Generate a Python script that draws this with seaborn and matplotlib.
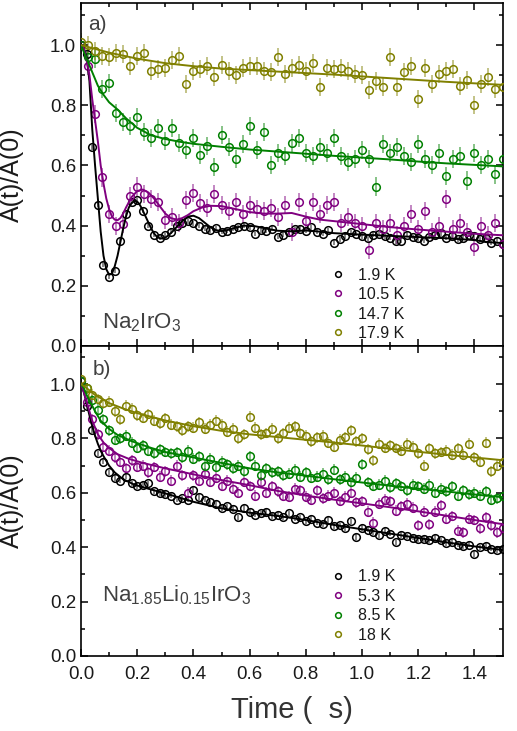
import numpy as np
import pandas as pd
import matplotlib
matplotlib.use("Agg")
import matplotlib.pyplot as plt
import seaborn as sns

# ---------------- data ----------------
# Panel a) Na2IrO3  (time in microseconds)
a_black_dt = 0.02
a_black = [1.00, 0.97, 0.66, 0.47, 0.27, 0.23, 0.25, 0.35, 0.44, 0.48,
           0.485, 0.45, 0.40, 0.37, 0.36, 0.368, 0.38, 0.40, 0.41, 0.415,
           0.408, 0.40, 0.39, 0.385, 0.392, 0.38, 0.383, 0.39, 0.395, 0.40,
           0.395, 0.372, 0.385, 0.382, 0.39, 0.362, 0.37, 0.378, 0.388, 0.39,
           0.383, 0.395, 0.38, 0.372, 0.385, 0.343, 0.355, 0.365, 0.378, 0.372,
           0.365, 0.358, 0.37, 0.372, 0.365, 0.36, 0.348, 0.35, 0.37, 0.362,
           0.358, 0.35, 0.362, 0.37, 0.375, 0.36, 0.365, 0.355, 0.36, 0.37,
           0.365, 0.355, 0.36, 0.342, 0.35, 0.34]
a_other_dt = 0.025
a_purple = [1.00, 0.93, 0.77, 0.56, 0.44, 0.40, 0.405, 0.50, 0.53, 0.505,
            0.49, 0.48, 0.42, 0.43, 0.41, 0.485, 0.51, 0.475, 0.46, 0.505,
            0.47, 0.45, 0.48, 0.44, 0.47, 0.455, 0.45, 0.46, 0.43, 0.47,
            0.38, 0.48, 0.415, 0.48, 0.44, 0.47, 0.48, 0.41, 0.43, 0.41,
            0.40, 0.32, 0.41, 0.39, 0.41, 0.37, 0.40, 0.44, 0.39, 0.45,
            0.38, 0.40, 0.49, 0.39, 0.41, 0.38, 0.33, 0.40, 0.37, 0.41, 0.34]
a_green = [1.00, 0.96, 0.955, 0.855, 0.875, 0.775, 0.745, 0.73, 0.76, 0.71,
           0.69, 0.725, 0.68, 0.725, 0.675, 0.65, 0.69, 0.635, 0.665, 0.595,
           0.70, 0.66, 0.62, 0.67, 0.73, 0.65, 0.71, 0.60, 0.64, 0.63,
           0.675, 0.69, 0.64, 0.63, 0.66, 0.64, 0.69, 0.63, 0.61, 0.62,
           0.65, 0.62, 0.53, 0.67, 0.64, 0.66, 0.63, 0.61, 0.67, 0.62,
           0.60, 0.64, 0.565, 0.62, 0.63, 0.55, 0.64, 0.60, 0.62, 0.57, 0.62]
a_olive = [1.01, 1.00, 0.98, 0.965, 0.96, 0.975, 0.97, 0.93, 0.965, 0.975,
           0.915, 0.92, 0.925, 0.95, 0.965, 0.87, 0.915, 0.92, 0.93, 0.895,
           0.935, 0.915, 0.90, 0.925, 0.93, 0.93, 0.915, 0.91, 0.96, 0.905,
           0.925, 0.935, 0.915, 0.94, 0.86, 0.925, 0.92, 0.925, 0.915, 0.905,
           0.90, 0.85, 0.88, 0.86, 0.96, 0.86, 0.91, 0.93, 0.82, 0.925,
           0.87, 0.905, 0.915, 0.92, 0.865, 0.885, 0.80, 0.87, 0.895, 0.855, 0.86]
a_err = {"black": 0.008, "purple": 0.03, "green": 0.03, "olive": 0.03}

# fit curves, panel a
a_fit_black_t = [0.00, 0.01, 0.02, 0.03, 0.04, 0.05, 0.06, 0.07, 0.08, 0.09,
                 0.10, 0.11, 0.12, 0.13, 0.14, 0.15, 0.16, 0.17, 0.18, 0.19,
                 0.20, 0.21, 0.22, 0.23, 0.24, 0.25, 0.26, 0.27, 0.28, 0.29,
                 0.30, 0.32, 0.34, 0.36, 0.38, 0.40, 0.42, 0.44, 0.46, 0.48,
                 0.50, 0.52, 0.55, 0.58, 0.62, 0.66, 0.70, 0.75, 0.80, 0.85,
                 0.90, 1.00, 1.10, 1.20, 1.30, 1.40, 1.45, 1.50]
a_fit_black = [1.00, 0.99, 0.96, 0.88, 0.72, 0.60, 0.49, 0.38, 0.30, 0.255,
               0.237, 0.24, 0.265, 0.30, 0.345, 0.39, 0.43, 0.46, 0.475, 0.482,
               0.48, 0.468, 0.45, 0.43, 0.41, 0.39, 0.374, 0.363, 0.358, 0.357,
               0.36, 0.375, 0.395, 0.415, 0.43, 0.433, 0.425, 0.41, 0.395, 0.385,
               0.382, 0.385, 0.393, 0.40, 0.398, 0.39, 0.383, 0.381, 0.384, 0.38,
               0.375, 0.37, 0.366, 0.362, 0.358, 0.352, 0.345, 0.342]
a_fit_purple_t = [0.00, 0.01, 0.02, 0.03, 0.04, 0.05, 0.06, 0.07, 0.08, 0.09,
                  0.10, 0.11, 0.12, 0.13, 0.14, 0.15, 0.16, 0.18, 0.20, 0.22,
                  0.24, 0.26, 0.28, 0.30, 0.32, 0.34, 0.36, 0.38, 0.40, 0.43,
                  0.46, 0.50, 0.55, 0.60, 0.65, 0.70, 0.75, 0.80, 0.85, 0.90,
                  1.00, 1.10, 1.20, 1.30, 1.40, 1.50]
a_fit_purple = [1.00, 0.99, 0.95, 0.90, 0.82, 0.75, 0.68, 0.60, 0.54, 0.49,
                0.455, 0.43, 0.42, 0.418, 0.425, 0.44, 0.46, 0.495, 0.515, 0.52,
                0.51, 0.49, 0.465, 0.44, 0.425, 0.42, 0.425, 0.435, 0.448, 0.46,
                0.466, 0.465, 0.455, 0.445, 0.44, 0.44, 0.442, 0.43, 0.42, 0.415,
                0.405, 0.395, 0.387, 0.38, 0.373, 0.368]
a_fit_green_t = [0.00, 0.02, 0.04, 0.06, 0.08, 0.10, 0.13, 0.16, 0.20, 0.25,
                 0.30, 0.35, 0.40, 0.50, 0.60, 0.70, 0.80, 0.90, 1.00, 1.10,
                 1.20, 1.30, 1.40, 1.50]
a_fit_green = [1.00, 0.955, 0.91, 0.865, 0.835, 0.81, 0.786, 0.757, 0.725, 0.70,
               0.688, 0.679, 0.672, 0.662, 0.653, 0.646, 0.639, 0.632, 0.626, 0.62,
               0.613, 0.607, 0.602, 0.597]
a_fit_olive_t = [0.0, 0.1, 0.2, 0.3, 0.4, 0.5, 0.6, 0.7, 0.8, 0.9,
                 1.0, 1.1, 1.2, 1.3, 1.4, 1.5]
a_fit_olive = [1.0, 0.975, 0.955, 0.94, 0.93, 0.922, 0.917, 0.912, 0.907, 0.902,
               0.896, 0.89, 0.884, 0.878, 0.873, 0.868]

# Panel b) Na1.85Li0.15IrO3
b_dt = 0.02
b_black = [1.01, 0.92, 0.83, 0.745, 0.715, 0.675, 0.655, 0.645, 0.66, 0.635,
           0.625, 0.628, 0.635, 0.605, 0.60, 0.595, 0.59, 0.575, 0.58, 0.575,
           0.61, 0.585, 0.575, 0.565, 0.56, 0.545, 0.55, 0.54, 0.51, 0.545,
           0.53, 0.52, 0.525, 0.53, 0.515, 0.52, 0.51, 0.525, 0.505, 0.51,
           0.495, 0.505, 0.49, 0.485, 0.50, 0.478, 0.48, 0.47, 0.495, 0.437,
           0.47, 0.465, 0.455, 0.445, 0.46, 0.45, 0.418, 0.445, 0.44, 0.435,
           0.43, 0.43, 0.425, 0.435, 0.425, 0.415, 0.42, 0.41, 0.405, 0.41,
           0.375, 0.40, 0.405, 0.395, 0.39, 0.395]
b_purple = [1.01, 0.935, 0.87, 0.815, 0.77, 0.755, 0.73, 0.715, 0.69, 0.72,
            0.695, 0.70, 0.675, 0.695, 0.66, 0.68, 0.645, 0.70, 0.665, 0.60,
            0.665, 0.645, 0.67, 0.64, 0.655, 0.625, 0.645, 0.615, 0.60, 0.64,
            0.625, 0.59, 0.64, 0.60, 0.625, 0.605, 0.59, 0.585, 0.615, 0.61,
            0.585, 0.575, 0.61, 0.58, 0.59, 0.60, 0.57, 0.585, 0.60, 0.565,
            0.57, 0.53, 0.49, 0.56, 0.575, 0.57, 0.535, 0.55, 0.56, 0.545,
            0.48, 0.53, 0.485, 0.53, 0.555, 0.505, 0.515, 0.46, 0.455, 0.505,
            0.50, 0.47, 0.51, 0.48, 0.455, 0.47]
b_green = [1.01, 0.985, 0.94, 0.905, 0.87, 0.83, 0.795, 0.80, 0.81, 0.785,
           0.765, 0.775, 0.755, 0.745, 0.76, 0.75, 0.745, 0.75, 0.73, 0.755,
           0.725, 0.735, 0.70, 0.725, 0.695, 0.715, 0.705, 0.69, 0.70, 0.68,
           0.735, 0.70, 0.665, 0.69, 0.675, 0.68, 0.665, 0.67, 0.685, 0.66,
           0.675, 0.655, 0.66, 0.67, 0.65, 0.685, 0.65, 0.66, 0.64, 0.655,
           0.705, 0.64, 0.625, 0.63, 0.645, 0.62, 0.635, 0.625, 0.61, 0.63,
           0.625, 0.615, 0.63, 0.60, 0.615, 0.605, 0.625, 0.59, 0.61, 0.595,
           0.60, 0.59, 0.605, 0.575, 0.58, 0.59]
b_olive = [1.02, 0.985, 0.96, 0.945, 0.93, 0.935, 0.90, 0.87, 0.92, 0.91,
           0.885, 0.875, 0.89, 0.865, 0.855, 0.875, 0.85, 0.845, 0.83, 0.845,
           0.84, 0.86, 0.835, 0.85, 0.865, 0.85, 0.825, 0.835, 0.80, 0.815,
           0.88, 0.84, 0.815, 0.82, 0.835, 0.80, 0.82, 0.84, 0.845, 0.82,
           0.81, 0.79, 0.805, 0.81, 0.785, 0.77, 0.795, 0.805, 0.83, 0.79,
           0.80, 0.76, 0.72, 0.78, 0.765, 0.775, 0.765, 0.755, 0.78, 0.77,
           0.745, 0.70, 0.765, 0.745, 0.75, 0.755, 0.74, 0.765, 0.74, 0.78,
           0.73, 0.715, 0.785, 0.68, 0.70, 0.715]
b_err = {"black": 0.01, "purple": 0.02, "green": 0.02, "olive": 0.02}

b_fit_black_t = [0.00, 0.01, 0.02, 0.03, 0.04, 0.05, 0.06, 0.07, 0.08, 0.10,
                 0.12, 0.15, 0.19, 0.25, 0.30, 0.40, 0.50, 0.60, 0.70, 0.80,
                 0.90, 1.00, 1.10, 1.20, 1.30, 1.40, 1.50]
b_fit_black = [1.00, 0.97, 0.93, 0.885, 0.845, 0.81, 0.78, 0.755, 0.735, 0.70,
               0.675, 0.65, 0.63, 0.612, 0.598, 0.567, 0.543, 0.527, 0.515, 0.50,
               0.482, 0.466, 0.45, 0.434, 0.418, 0.403, 0.39]
b_fit_purple_t = [0.00, 0.01, 0.02, 0.03, 0.04, 0.05, 0.06, 0.08, 0.10, 0.13,
                  0.17, 0.22, 0.30, 0.40, 0.50, 0.60, 0.70, 0.80, 0.90, 1.00,
                  1.10, 1.20, 1.30, 1.40, 1.50]
b_fit_purple = [1.00, 0.97, 0.935, 0.90, 0.865, 0.84, 0.815, 0.785, 0.765, 0.742,
                0.725, 0.71, 0.69, 0.668, 0.647, 0.628, 0.607, 0.59, 0.575, 0.561,
                0.547, 0.532, 0.516, 0.50, 0.485]
b_fit_green_t = [0.00, 0.01, 0.02, 0.03, 0.05, 0.07, 0.10, 0.13, 0.18, 0.25,
                 0.30, 0.40, 0.50, 0.60, 0.70, 0.80, 0.90, 1.00, 1.10, 1.20,
                 1.30, 1.40, 1.50]
b_fit_green = [1.00, 0.985, 0.96, 0.94, 0.90, 0.865, 0.835, 0.813, 0.79, 0.765,
               0.75, 0.73, 0.71, 0.69, 0.675, 0.663, 0.65, 0.638, 0.626, 0.615,
               0.605, 0.594, 0.584]
b_fit_olive_t = [0.00, 0.02, 0.05, 0.10, 0.15, 0.20, 0.30, 0.40, 0.50, 0.60,
                 0.70, 0.80, 0.90, 1.00, 1.10, 1.20, 1.30, 1.40, 1.50]
b_fit_olive = [1.00, 0.985, 0.96, 0.93, 0.91, 0.893, 0.866, 0.845, 0.828, 0.815,
               0.805, 0.795, 0.785, 0.774, 0.762, 0.751, 0.74, 0.73, 0.72]

a_labels = ["1.9 K", "10.5 K", "14.7 K", "17.9 K"]
b_labels = ["1.9 K", "5.3 K", "8.5 K", "18 K"]
x_ticks = [0.0, 0.2, 0.4, 0.6, 0.8, 1.0, 1.2, 1.4]
y_ticks = [0.0, 0.2, 0.4, 0.6, 0.8, 1.0]

# ---------------- style ----------------
sns.set_theme(style="ticks")
plt.rcParams["font.family"] = ["Liberation Sans", "DejaVu Sans"]
plt.rcParams["mathtext.fontset"] = "custom"
plt.rcParams["mathtext.rm"] = "Liberation Sans"
plt.rcParams["mathtext.it"] = "Liberation Sans"
plt.rcParams["mathtext.bf"] = "Liberation Sans"

colors = {"black": "#000000", "purple": "#800080", "green": "#008000", "olive": "#808000"}
order = ["black", "purple", "green", "olive"]

fig = plt.figure(figsize=(5.17, 7.31), dpi=100)
ax_a = fig.add_axes([0.1567, 0.5267, 0.8153, 0.4692])
ax_b = fig.add_axes([0.1567, 0.1026, 0.8153, 0.4241], sharex=ax_a)


def grid(n, dt):
    return np.round(np.arange(n) * dt, 4)


def draw_panel(ax, series, fits, errs, labels):
    for key, lab in zip(order, labels):
        t, y = series[key]
        c = colors[key]
        ax.errorbar(t, y, yerr=errs[key], fmt="none", ecolor=c, alpha=0.55,
                    elinewidth=1.2, capsize=0, zorder=2)
        df = pd.DataFrame({"t": t, "y": y})
        sns.lineplot(data=df, x="t", y="y", ax=ax, color=c, marker="o",
                     linestyle="none", markerfacecolor="none", markeredgecolor=c,
                     markersize=5.5, markeredgewidth=1.1, estimator=None,
                     errorbar=None, label=lab, zorder=3)
    for key in order:
        ft, fy = fits[key]
        dff = pd.DataFrame({"t": ft, "y": fy})
        sns.lineplot(data=dff, x="t", y="y", ax=ax, color=colors[key], lw=1.4,
                     estimator=None, errorbar=None, zorder=4, legend=False)


series_a = {
    "black": (grid(len(a_black), a_black_dt), a_black),
    "purple": (grid(len(a_purple), a_other_dt), a_purple),
    "green": (grid(len(a_green), a_other_dt), a_green),
    "olive": (grid(len(a_olive), a_other_dt), a_olive),
}
fits_a = {
    "black": (a_fit_black_t, a_fit_black),
    "purple": (a_fit_purple_t, a_fit_purple),
    "green": (a_fit_green_t, a_fit_green),
    "olive": (a_fit_olive_t, a_fit_olive),
}
series_b = {
    "black": (grid(len(b_black), b_dt), b_black),
    "purple": (grid(len(b_purple), b_dt), b_purple),
    "green": (grid(len(b_green), b_dt), b_green),
    "olive": (grid(len(b_olive), b_dt), b_olive),
}
fits_b = {
    "black": (b_fit_black_t, b_fit_black),
    "purple": (b_fit_purple_t, b_fit_purple),
    "green": (b_fit_green_t, b_fit_green),
    "olive": (b_fit_olive_t, b_fit_olive),
}

draw_panel(ax_a, series_a, fits_a, a_err, a_labels)
draw_panel(ax_b, series_b, fits_b, b_err, b_labels)

legend_anchor = {ax_a: (0.565, -0.018), ax_b: (0.565, 0.007)}
for ax in (ax_a, ax_b):
    ax.set_xlim(0, 1.5)
    ax.set_ylim(0, 1.14)
    ax.set_xticks(x_ticks)
    ax.set_yticks(y_ticks)
    ax.set_xticks(np.round(np.arange(0.1, 1.5, 0.2), 2), minor=True)
    ax.set_yticks([0.1, 0.3, 0.5, 0.7, 0.9, 1.1], minor=True)
    ax.yaxis.set_major_formatter(matplotlib.ticker.FormatStrFormatter("%.1f"))
    ax.xaxis.set_major_formatter(matplotlib.ticker.FormatStrFormatter("%.1f"))
    ax.tick_params(which="both", direction="in", top=True, right=True,
                   width=1.1, colors="black", labelsize=13.5, labelcolor="#1a1a1a")
    ax.tick_params(which="major", length=5)
    ax.tick_params(which="minor", length=3)
    ax.tick_params(axis="x", pad=7)
    for s in ax.spines.values():
        s.set_linewidth(1.2)
        s.set_color("black")
    ax.set_ylabel("A(t)/A(0)", fontsize=18, color="#1a1a1a")
    ax.yaxis.set_label_coords(-0.135, 0.5)
    ax.set_xlabel("")
    ax.legend(loc="lower left", bbox_to_anchor=legend_anchor[ax], frameon=False,
              fontsize=11.5, handlelength=1.0, handletextpad=0.7,
              labelspacing=0.28, markerscale=0.75, borderpad=0.2,
              labelcolor="#1a1a1a")

ax_a.tick_params(axis="x", labelbottom=False)
ax_b.set_xlabel("Time (  s)", fontsize=21, color="#333333")
ax_b.xaxis.set_label_coords(0.5, -0.13)

ax_a.text(0.017, 0.938, "a)", transform=ax_a.transAxes, fontsize=15,
          color="#404040", va="center", ha="left")
ax_b.text(0.027, 0.923, "b)", transform=ax_b.transAxes, fontsize=15,
          color="#404040", va="center", ha="left")
ax_a.text(0.05, 0.05, r"Na$_2$IrO$_3$", transform=ax_a.transAxes, fontsize=16,
          color="#404040", va="baseline", ha="left")
ax_b.text(0.05, 0.175, r"Na$_{1.85}$Li$_{0.15}$IrO$_3$", transform=ax_b.transAxes,
          fontsize=16, color="#404040", va="baseline", ha="left")

fig.savefig("out.png", dpi=100)
